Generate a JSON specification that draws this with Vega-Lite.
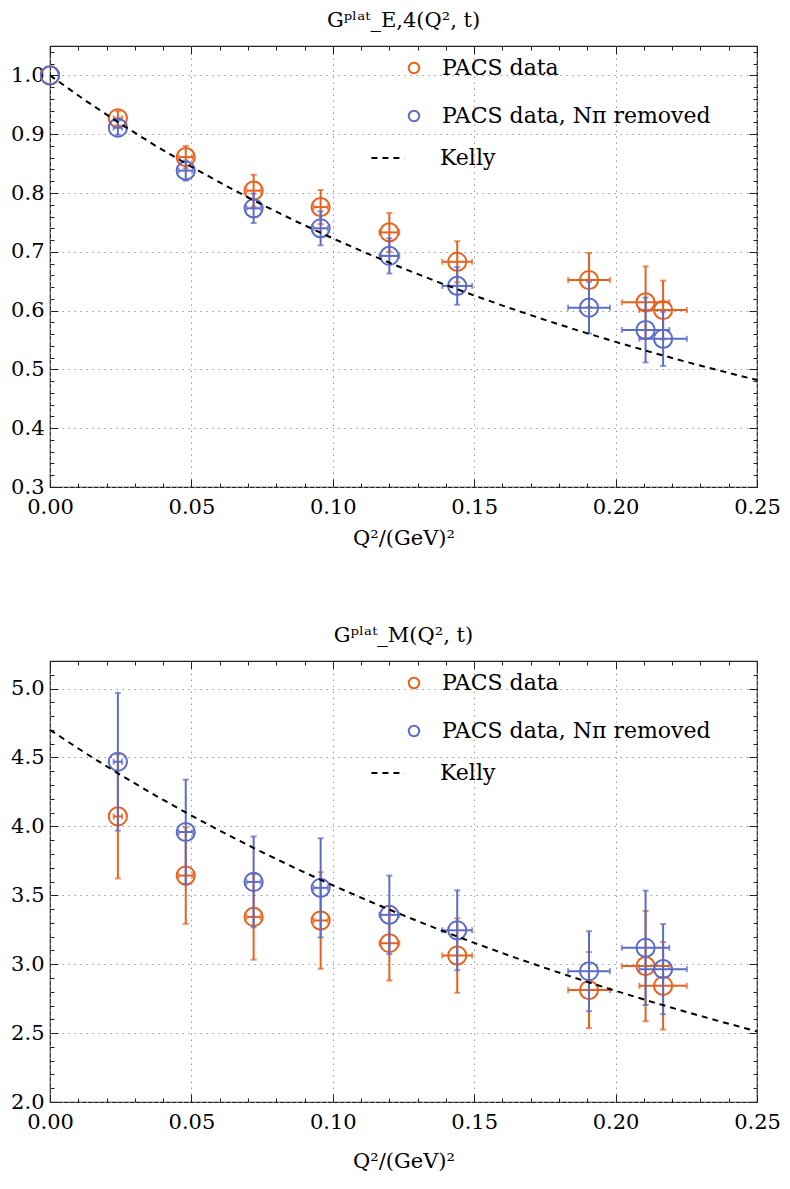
{
  "$schema": "https://vega.github.io/schema/vega-lite/v6.json",
  "padding": {"left": 10, "top": 8, "right": 5, "bottom": 5},
  "config": {
    "font": "DejaVu Serif",
    "view": {"stroke": "#222", "strokeWidth": 1.2},
    "axis": {"labelFont": "DejaVu Serif", "labelFontSize": 21, "labelColor": "#000", "titleFont": "DejaVu Serif", "titleFontSize": 21, "titleFontWeight": "normal", "titleColor": "#000", "gridColor": "#999", "gridDash": [1.5, 4.5], "gridWidth": 1, "gridOpacity": 1, "tickColor": "#222", "tickWidth": 1, "domain": false, "labelFlush": false, "labelOverlap": false, "minExtent": 0},
    "legend": {"labelFont": "DejaVu Serif", "labelFontSize": 22, "labelColor": "#000", "labelLimit": 500},
    "title": {"font": "DejaVu Serif", "fontSize": 21, "fontWeight": "normal", "color": "#000", "anchor": "middle"}
  },
  "datasets": {
    "ge": [
      {"s": "PACS data", "q2": 0, "g": 1.0},
      {"s": "PACS data", "q2": 0.024, "qlo": 0.0225, "qhi": 0.0255, "g": 0.927, "glo": 0.915, "ghi": 0.939},
      {"s": "PACS data", "q2": 0.048, "qlo": 0.0455, "qhi": 0.0505, "g": 0.861, "glo": 0.842, "ghi": 0.880},
      {"s": "PACS data", "q2": 0.072, "qlo": 0.0695, "qhi": 0.0745, "g": 0.804, "glo": 0.777, "ghi": 0.831},
      {"s": "PACS data", "q2": 0.0957, "qlo": 0.0932, "qhi": 0.0982, "g": 0.776, "glo": 0.747, "ghi": 0.805},
      {"s": "PACS data", "q2": 0.120, "qlo": 0.1165, "qhi": 0.1235, "g": 0.733, "glo": 0.700, "ghi": 0.766},
      {"s": "PACS data", "q2": 0.144, "qlo": 0.1387, "qhi": 0.1493, "g": 0.683, "glo": 0.648, "ghi": 0.718},
      {"s": "PACS data", "q2": 0.1906, "qlo": 0.1832, "qhi": 0.198, "g": 0.652, "glo": 0.606, "ghi": 0.698},
      {"s": "PACS data", "q2": 0.2106, "qlo": 0.2022, "qhi": 0.219, "g": 0.614, "glo": 0.553, "ghi": 0.675},
      {"s": "PACS data", "q2": 0.2168, "qlo": 0.2084, "qhi": 0.2252, "g": 0.601, "glo": 0.551, "ghi": 0.651},
      {"s": "PACS data, Nπ removed", "q2": 0, "g": 1.0},
      {"s": "PACS data, Nπ removed", "q2": 0.024, "qlo": 0.0225, "qhi": 0.0255, "g": 0.911, "glo": 0.899, "ghi": 0.923},
      {"s": "PACS data, Nπ removed", "q2": 0.048, "qlo": 0.0455, "qhi": 0.0505, "g": 0.838, "glo": 0.821, "ghi": 0.855},
      {"s": "PACS data, Nπ removed", "q2": 0.072, "qlo": 0.0695, "qhi": 0.0745, "g": 0.774, "glo": 0.749, "ghi": 0.799},
      {"s": "PACS data, Nπ removed", "q2": 0.0957, "qlo": 0.0932, "qhi": 0.0982, "g": 0.740, "glo": 0.711, "ghi": 0.769},
      {"s": "PACS data, Nπ removed", "q2": 0.120, "qlo": 0.1165, "qhi": 0.1235, "g": 0.693, "glo": 0.663, "ghi": 0.723},
      {"s": "PACS data, Nπ removed", "q2": 0.144, "qlo": 0.1387, "qhi": 0.1493, "g": 0.642, "glo": 0.610, "ghi": 0.674},
      {"s": "PACS data, Nπ removed", "q2": 0.1906, "qlo": 0.1832, "qhi": 0.198, "g": 0.605, "glo": 0.561, "ghi": 0.649},
      {"s": "PACS data, Nπ removed", "q2": 0.2106, "qlo": 0.2022, "qhi": 0.219, "g": 0.567, "glo": 0.512, "ghi": 0.622},
      {"s": "PACS data, Nπ removed", "q2": 0.2168, "qlo": 0.2084, "qhi": 0.2252, "g": 0.552, "glo": 0.506, "ghi": 0.598}
    ],
    "gm": [
      {"s": "PACS data", "q2": 0.024, "qlo": 0.0225, "qhi": 0.0255, "g": 4.072, "glo": 3.622, "ghi": 4.522},
      {"s": "PACS data", "q2": 0.048, "qlo": 0.0455, "qhi": 0.0505, "g": 3.643, "glo": 3.293, "ghi": 3.993},
      {"s": "PACS data", "q2": 0.072, "qlo": 0.0695, "qhi": 0.0745, "g": 3.343, "glo": 3.033, "ghi": 3.653},
      {"s": "PACS data", "q2": 0.0957, "qlo": 0.0932, "qhi": 0.0982, "g": 3.317, "glo": 2.967, "ghi": 3.667},
      {"s": "PACS data", "q2": 0.120, "qlo": 0.1165, "qhi": 0.1235, "g": 3.152, "glo": 2.882, "ghi": 3.422},
      {"s": "PACS data", "q2": 0.144, "qlo": 0.1387, "qhi": 0.1493, "g": 3.063, "glo": 2.793, "ghi": 3.333},
      {"s": "PACS data", "q2": 0.1906, "qlo": 0.1832, "qhi": 0.198, "g": 2.812, "glo": 2.536, "ghi": 3.088},
      {"s": "PACS data", "q2": 0.2106, "qlo": 0.2022, "qhi": 0.219, "g": 2.986, "glo": 2.586, "ghi": 3.386},
      {"s": "PACS data", "q2": 0.2168, "qlo": 0.2084, "qhi": 0.2252, "g": 2.843, "glo": 2.526, "ghi": 3.160},
      {"s": "PACS data, Nπ removed", "q2": 0.024, "qlo": 0.0225, "qhi": 0.0255, "g": 4.469, "glo": 3.969, "ghi": 4.969},
      {"s": "PACS data, Nπ removed", "q2": 0.048, "qlo": 0.0455, "qhi": 0.0505, "g": 3.959, "glo": 3.579, "ghi": 4.339},
      {"s": "PACS data, Nπ removed", "q2": 0.072, "qlo": 0.0695, "qhi": 0.0745, "g": 3.597, "glo": 3.267, "ghi": 3.927},
      {"s": "PACS data, Nπ removed", "q2": 0.0957, "qlo": 0.0932, "qhi": 0.0982, "g": 3.554, "glo": 3.194, "ghi": 3.914},
      {"s": "PACS data, Nπ removed", "q2": 0.120, "qlo": 0.1165, "qhi": 0.1235, "g": 3.358, "glo": 3.073, "ghi": 3.643},
      {"s": "PACS data, Nπ removed", "q2": 0.144, "qlo": 0.1387, "qhi": 0.1493, "g": 3.246, "glo": 2.956, "ghi": 3.536},
      {"s": "PACS data, Nπ removed", "q2": 0.1906, "qlo": 0.1832, "qhi": 0.198, "g": 2.949, "glo": 2.659, "ghi": 3.239},
      {"s": "PACS data, Nπ removed", "q2": 0.2106, "qlo": 0.2022, "qhi": 0.219, "g": 3.119, "glo": 2.704, "ghi": 3.534},
      {"s": "PACS data, Nπ removed", "q2": 0.2168, "qlo": 0.2084, "qhi": 0.2252, "g": 2.964, "glo": 2.637, "ghi": 3.291}
    ],
    "ke": [
      {"q2": 0, "g": 1.0}, {"q2": 0.0125, "g": 0.95737}, {"q2": 0.025, "g": 0.9174}, {"q2": 0.0375, "g": 0.87989},
      {"q2": 0.05, "g": 0.84464}, {"q2": 0.0625, "g": 0.81147}, {"q2": 0.075, "g": 0.78019}, {"q2": 0.0875, "g": 0.75071},
      {"q2": 0.1, "g": 0.72286}, {"q2": 0.1125, "g": 0.69653}, {"q2": 0.125, "g": 0.67161}, {"q2": 0.1375, "g": 0.64801},
      {"q2": 0.15, "g": 0.62564}, {"q2": 0.1625, "g": 0.6044}, {"q2": 0.175, "g": 0.58422}, {"q2": 0.1875, "g": 0.56504},
      {"q2": 0.2, "g": 0.54678}, {"q2": 0.2125, "g": 0.5294}, {"q2": 0.225, "g": 0.51283}, {"q2": 0.2375, "g": 0.49703},
      {"q2": 0.25, "g": 0.48195}
    ],
    "km": [
      {"q2": 0, "g": 4.7}, {"q2": 0.0125, "g": 4.5319}, {"q2": 0.025, "g": 4.3725}, {"q2": 0.0375, "g": 4.2215},
      {"q2": 0.05, "g": 4.0782}, {"q2": 0.0625, "g": 3.9421}, {"q2": 0.075, "g": 3.8126}, {"q2": 0.0875, "g": 3.6894},
      {"q2": 0.1, "g": 3.5721}, {"q2": 0.1125, "g": 3.4603}, {"q2": 0.125, "g": 3.3537}, {"q2": 0.1375, "g": 3.2519},
      {"q2": 0.15, "g": 3.1547}, {"q2": 0.1625, "g": 3.0618}, {"q2": 0.175, "g": 2.9729}, {"q2": 0.1875, "g": 2.8878},
      {"q2": 0.2, "g": 2.8064}, {"q2": 0.2125, "g": 2.7283}, {"q2": 0.225, "g": 2.6534}, {"q2": 0.2375, "g": 2.5817},
      {"q2": 0.25, "g": 2.5127}
    ]
  },
  "spacing": 74,
  "resolve": {"scale": {"x": "independent", "y": "independent", "color": "independent", "strokeDash": "independent"}, "legend": {"color": "independent", "strokeDash": "independent"}},
  "vconcat": [
    {
      "width": 707, "height": 441,
      "title": {"text": "Gᵖˡᵃᵗ_E,4(Q², t)", "offset": -2, "baseline": "alphabetic"},
      "data": {"name": "ge"},
      "resolve": {"axis": {"x": "independent", "y": "independent"}},
      "layer": [
        {
          "transform": [{"filter": "datum.s === 'PACS data' && isValid(datum.glo)"}],
          "mark": {"type": "errorbar", "thickness": 2, "ticks": {"size": 6, "thickness": 2}},
          "encoding": {
            "x": {"field": "q2", "type": "quantitative", "scale": {"domain": [0, 0.25], "nice": false, "zero": false}, "axis": null},
            "y": {"field": "glo", "type": "quantitative", "scale": {"domain": [0.3, 1.05], "nice": false, "zero": false}, "axis": null},
            "y2": {"field": "ghi"},
            "color": {"value": "#e8601c"}
          }
        },
        {
          "transform": [{"filter": "datum.s === 'PACS data' && isValid(datum.qlo)"}],
          "mark": {"type": "errorbar", "thickness": 2, "ticks": {"size": 6, "thickness": 2}},
          "encoding": {
            "x": {"field": "qlo", "type": "quantitative", "scale": {"domain": [0, 0.25], "nice": false, "zero": false}, "axis": null},
            "x2": {"field": "qhi"},
            "y": {"field": "g", "type": "quantitative", "scale": {"domain": [0.3, 1.05], "nice": false, "zero": false}, "axis": null},
            "color": {"value": "#e8601c"}
          }
        },
        {
          "transform": [{"filter": "datum.s === 'PACS data'"}],
          "mark": {"type": "point", "shape": "circle", "filled": false, "size": 330, "strokeWidth": 2, "opacity": 1},
          "encoding": {
            "x": {"field": "q2", "type": "quantitative", "scale": {"domain": [0, 0.25], "nice": false, "zero": false},
              "axis": {"orient": "bottom", "title": null, "labels": false, "grid": false, "domain": false,
                "values": [0,0.01,0.02,0.03,0.04,0.05,0.06,0.07,0.08,0.09,0.1,0.11,0.12,0.13,0.14,0.15,0.16,0.17,0.18,0.19,0.2,0.21,0.22,0.23,0.24,0.25],
                "tickSize": {"condition": {"test": "abs(datum.value*20 - round(datum.value*20)) < 0.001", "value": -8}, "value": -4}}},
            "y": {"field": "g", "type": "quantitative", "scale": {"domain": [0.3, 1.05], "nice": false, "zero": false},
              "axis": {"orient": "left", "title": null, "labels": false, "grid": false, "domain": false,
                "values": [0.3,0.32,0.34,0.36,0.38,0.4,0.42,0.44,0.46,0.48,0.5,0.52,0.54,0.56,0.58,0.6,0.62,0.64,0.66,0.68,0.7,0.72,0.74,0.76,0.78,0.8,0.82,0.84,0.86,0.88,0.9,0.92,0.94,0.96,0.98,1.0,1.02,1.04],
                "tickSize": {"condition": {"test": "abs(datum.value*10 - round(datum.value*10)) < 0.001", "value": -8}, "value": -4}}},
            "color": {"field": "s", "type": "nominal",
              "scale": {"domain": ["PACS data", "PACS data, Nπ removed"], "range": ["#e8601c", "#5a6bc8"]},
              "legend": {"orient": "none", "legendX": 353, "legendY": 11, "title": null, "symbolType": "circle", "symbolSize": 110, "symbolStrokeWidth": 2, "symbolFillColor": "transparent", "rowPadding": 26, "labelOffset": 17}}
          }
        },
        {
          "transform": [{"filter": "datum.s !== 'PACS data' && isValid(datum.glo)"}],
          "mark": {"type": "errorbar", "thickness": 2, "ticks": {"size": 6, "thickness": 2}},
          "encoding": {
            "x": {"field": "q2", "type": "quantitative", "scale": {"domain": [0, 0.25], "nice": false, "zero": false}, "axis": null},
            "y": {"field": "glo", "type": "quantitative", "scale": {"domain": [0.3, 1.05], "nice": false, "zero": false}, "axis": null},
            "y2": {"field": "ghi"},
            "color": {"value": "#5a6bc8"}
          }
        },
        {
          "transform": [{"filter": "datum.s !== 'PACS data' && isValid(datum.qlo)"}],
          "mark": {"type": "errorbar", "thickness": 2, "ticks": {"size": 6, "thickness": 2}},
          "encoding": {
            "x": {"field": "qlo", "type": "quantitative", "scale": {"domain": [0, 0.25], "nice": false, "zero": false}, "axis": null},
            "x2": {"field": "qhi"},
            "y": {"field": "g", "type": "quantitative", "scale": {"domain": [0.3, 1.05], "nice": false, "zero": false}, "axis": null},
            "color": {"value": "#5a6bc8"}
          }
        },
        {
          "transform": [{"filter": "datum.s !== 'PACS data'"}],
          "mark": {"type": "point", "shape": "circle", "filled": false, "size": 330, "strokeWidth": 2, "opacity": 1},
          "encoding": {
            "x": {"field": "q2", "type": "quantitative", "scale": {"domain": [0, 0.25], "nice": false, "zero": false},
              "axis": {"orient": "top", "title": null, "labels": false, "grid": false, "domain": false,
                "values": [0,0.01,0.02,0.03,0.04,0.05,0.06,0.07,0.08,0.09,0.1,0.11,0.12,0.13,0.14,0.15,0.16,0.17,0.18,0.19,0.2,0.21,0.22,0.23,0.24,0.25],
                "tickSize": {"condition": {"test": "abs(datum.value*20 - round(datum.value*20)) < 0.001", "value": -8}, "value": -4}}},
            "y": {"field": "g", "type": "quantitative", "scale": {"domain": [0.3, 1.05], "nice": false, "zero": false},
              "axis": {"orient": "right", "title": null, "labels": false, "grid": false, "domain": false,
                "values": [0.3,0.32,0.34,0.36,0.38,0.4,0.42,0.44,0.46,0.48,0.5,0.52,0.54,0.56,0.58,0.6,0.62,0.64,0.66,0.68,0.7,0.72,0.74,0.76,0.78,0.8,0.82,0.84,0.86,0.88,0.9,0.92,0.94,0.96,0.98,1.0,1.02,1.04],
                "tickSize": {"condition": {"test": "abs(datum.value*10 - round(datum.value*10)) < 0.001", "value": -8}, "value": -4}}},
            "color": {"field": "s", "type": "nominal",
              "scale": {"domain": ["PACS data", "PACS data, Nπ removed"], "range": ["#e8601c", "#5a6bc8"]},
              "legend": {"orient": "none", "legendX": 353, "legendY": 11, "title": null, "symbolType": "circle", "symbolSize": 110, "symbolStrokeWidth": 2, "symbolFillColor": "transparent", "rowPadding": 26, "labelOffset": 17}}
          }
        },
        {
          "data": {"name": "ke"},
          "mark": {"type": "line", "color": "#000", "strokeWidth": 2},
          "encoding": {
            "x": {"field": "q2", "type": "quantitative", "scale": {"domain": [0, 0.25], "nice": false, "zero": false},
              "axis": {"orient": "bottom", "title": "Q²/(GeV)²", "titlePadding": 10, "format": ".2f", "values": [0, 0.05, 0.1, 0.15, 0.2, 0.25], "ticks": false, "labelPadding": 9, "grid": true, "domain": false}},
            "y": {"field": "g", "type": "quantitative", "scale": {"domain": [0.3, 1.05], "nice": false, "zero": false},
              "axis": {"orient": "left", "title": null, "format": ".1f", "values": [0.3, 0.4, 0.5, 0.6, 0.7, 0.8, 0.9, 1.0], "ticks": false, "labelPadding": 6, "grid": true, "domain": false}},
            "strokeDash": {"datum": "Kelly", "type": "nominal", "scale": {"domain": ["Kelly"], "range": [[6, 5]]},
              "legend": {"orient": "none", "legendX": 320, "legendY": 94, "title": null, "symbolType": "stroke", "symbolSize": 1100, "symbolStrokeWidth": 2, "symbolStrokeColor": "#000", "labelOffset": 34}}
          }
        }
      ]
    },
    {
      "width": 707, "height": 441,
      "title": {"text": "Gᵖˡᵃᵗ_M(Q², t)", "offset": -2, "baseline": "alphabetic"},
      "data": {"name": "gm"},
      "resolve": {"axis": {"x": "independent", "y": "independent"}},
      "layer": [
        {
          "transform": [{"filter": "datum.s === 'PACS data' && isValid(datum.glo)"}],
          "mark": {"type": "errorbar", "thickness": 2, "ticks": {"size": 6, "thickness": 2}},
          "encoding": {
            "x": {"field": "q2", "type": "quantitative", "scale": {"domain": [0, 0.25], "nice": false, "zero": false}, "axis": null},
            "y": {"field": "glo", "type": "quantitative", "scale": {"domain": [2.0, 5.2], "nice": false, "zero": false}, "axis": null},
            "y2": {"field": "ghi"},
            "color": {"value": "#e8601c"}
          }
        },
        {
          "transform": [{"filter": "datum.s === 'PACS data' && isValid(datum.qlo)"}],
          "mark": {"type": "errorbar", "thickness": 2, "ticks": {"size": 6, "thickness": 2}},
          "encoding": {
            "x": {"field": "qlo", "type": "quantitative", "scale": {"domain": [0, 0.25], "nice": false, "zero": false}, "axis": null},
            "x2": {"field": "qhi"},
            "y": {"field": "g", "type": "quantitative", "scale": {"domain": [2.0, 5.2], "nice": false, "zero": false}, "axis": null},
            "color": {"value": "#e8601c"}
          }
        },
        {
          "transform": [{"filter": "datum.s === 'PACS data'"}],
          "mark": {"type": "point", "shape": "circle", "filled": false, "size": 330, "strokeWidth": 2, "opacity": 1},
          "encoding": {
            "x": {"field": "q2", "type": "quantitative", "scale": {"domain": [0, 0.25], "nice": false, "zero": false},
              "axis": {"orient": "bottom", "title": null, "labels": false, "grid": false, "domain": false,
                "values": [0,0.01,0.02,0.03,0.04,0.05,0.06,0.07,0.08,0.09,0.1,0.11,0.12,0.13,0.14,0.15,0.16,0.17,0.18,0.19,0.2,0.21,0.22,0.23,0.24,0.25],
                "tickSize": {"condition": {"test": "abs(datum.value*20 - round(datum.value*20)) < 0.001", "value": -8}, "value": -4}}},
            "y": {"field": "g", "type": "quantitative", "scale": {"domain": [2.0, 5.2], "nice": false, "zero": false},
              "axis": {"orient": "left", "title": null, "labels": false, "grid": false, "domain": false,
                "values": [2,2.1,2.2,2.3,2.4,2.5,2.6,2.7,2.8,2.9,3,3.1,3.2,3.3,3.4,3.5,3.6,3.7,3.8,3.9,4,4.1,4.2,4.3,4.4,4.5,4.6,4.7,4.8,4.9,5,5.1,5.2],
                "tickSize": {"condition": {"test": "abs(datum.value*2 - round(datum.value*2)) < 0.001", "value": -8}, "value": -4}}},
            "color": {"field": "s", "type": "nominal",
              "scale": {"domain": ["PACS data", "PACS data, Nπ removed"], "range": ["#e8601c", "#5a6bc8"]},
              "legend": {"orient": "none", "legendX": 353, "legendY": 11, "title": null, "symbolType": "circle", "symbolSize": 110, "symbolStrokeWidth": 2, "symbolFillColor": "transparent", "rowPadding": 26, "labelOffset": 17}}
          }
        },
        {
          "transform": [{"filter": "datum.s !== 'PACS data' && isValid(datum.glo)"}],
          "mark": {"type": "errorbar", "thickness": 2, "ticks": {"size": 6, "thickness": 2}},
          "encoding": {
            "x": {"field": "q2", "type": "quantitative", "scale": {"domain": [0, 0.25], "nice": false, "zero": false}, "axis": null},
            "y": {"field": "glo", "type": "quantitative", "scale": {"domain": [2.0, 5.2], "nice": false, "zero": false}, "axis": null},
            "y2": {"field": "ghi"},
            "color": {"value": "#5a6bc8"}
          }
        },
        {
          "transform": [{"filter": "datum.s !== 'PACS data' && isValid(datum.qlo)"}],
          "mark": {"type": "errorbar", "thickness": 2, "ticks": {"size": 6, "thickness": 2}},
          "encoding": {
            "x": {"field": "qlo", "type": "quantitative", "scale": {"domain": [0, 0.25], "nice": false, "zero": false}, "axis": null},
            "x2": {"field": "qhi"},
            "y": {"field": "g", "type": "quantitative", "scale": {"domain": [2.0, 5.2], "nice": false, "zero": false}, "axis": null},
            "color": {"value": "#5a6bc8"}
          }
        },
        {
          "transform": [{"filter": "datum.s !== 'PACS data'"}],
          "mark": {"type": "point", "shape": "circle", "filled": false, "size": 330, "strokeWidth": 2, "opacity": 1},
          "encoding": {
            "x": {"field": "q2", "type": "quantitative", "scale": {"domain": [0, 0.25], "nice": false, "zero": false},
              "axis": {"orient": "top", "title": null, "labels": false, "grid": false, "domain": false,
                "values": [0,0.01,0.02,0.03,0.04,0.05,0.06,0.07,0.08,0.09,0.1,0.11,0.12,0.13,0.14,0.15,0.16,0.17,0.18,0.19,0.2,0.21,0.22,0.23,0.24,0.25],
                "tickSize": {"condition": {"test": "abs(datum.value*20 - round(datum.value*20)) < 0.001", "value": -8}, "value": -4}}},
            "y": {"field": "g", "type": "quantitative", "scale": {"domain": [2.0, 5.2], "nice": false, "zero": false},
              "axis": {"orient": "right", "title": null, "labels": false, "grid": false, "domain": false,
                "values": [2,2.1,2.2,2.3,2.4,2.5,2.6,2.7,2.8,2.9,3,3.1,3.2,3.3,3.4,3.5,3.6,3.7,3.8,3.9,4,4.1,4.2,4.3,4.4,4.5,4.6,4.7,4.8,4.9,5,5.1,5.2],
                "tickSize": {"condition": {"test": "abs(datum.value*2 - round(datum.value*2)) < 0.001", "value": -8}, "value": -4}}},
            "color": {"field": "s", "type": "nominal",
              "scale": {"domain": ["PACS data", "PACS data, Nπ removed"], "range": ["#e8601c", "#5a6bc8"]},
              "legend": {"orient": "none", "legendX": 353, "legendY": 11, "title": null, "symbolType": "circle", "symbolSize": 110, "symbolStrokeWidth": 2, "symbolFillColor": "transparent", "rowPadding": 26, "labelOffset": 17}}
          }
        },
        {
          "data": {"name": "km"},
          "mark": {"type": "line", "color": "#000", "strokeWidth": 2},
          "encoding": {
            "x": {"field": "q2", "type": "quantitative", "scale": {"domain": [0, 0.25], "nice": false, "zero": false},
              "axis": {"orient": "bottom", "title": "Q²/(GeV)²", "titlePadding": 18, "format": ".2f", "values": [0, 0.05, 0.1, 0.15, 0.2, 0.25], "ticks": false, "labelPadding": 9, "grid": true, "domain": false}},
            "y": {"field": "g", "type": "quantitative", "scale": {"domain": [2.0, 5.2], "nice": false, "zero": false},
              "axis": {"orient": "left", "title": null, "format": ".1f", "values": [2.0, 2.5, 3.0, 3.5, 4.0, 4.5, 5.0], "ticks": false, "labelPadding": 6, "grid": true, "domain": false}},
            "strokeDash": {"datum": "Kelly", "type": "nominal", "scale": {"domain": ["Kelly"], "range": [[6, 5]]},
              "legend": {"orient": "none", "legendX": 320, "legendY": 94, "title": null, "symbolType": "stroke", "symbolSize": 1100, "symbolStrokeWidth": 2, "symbolStrokeColor": "#000", "labelOffset": 34}}
          }
        }
      ]
    }
  ]
}
